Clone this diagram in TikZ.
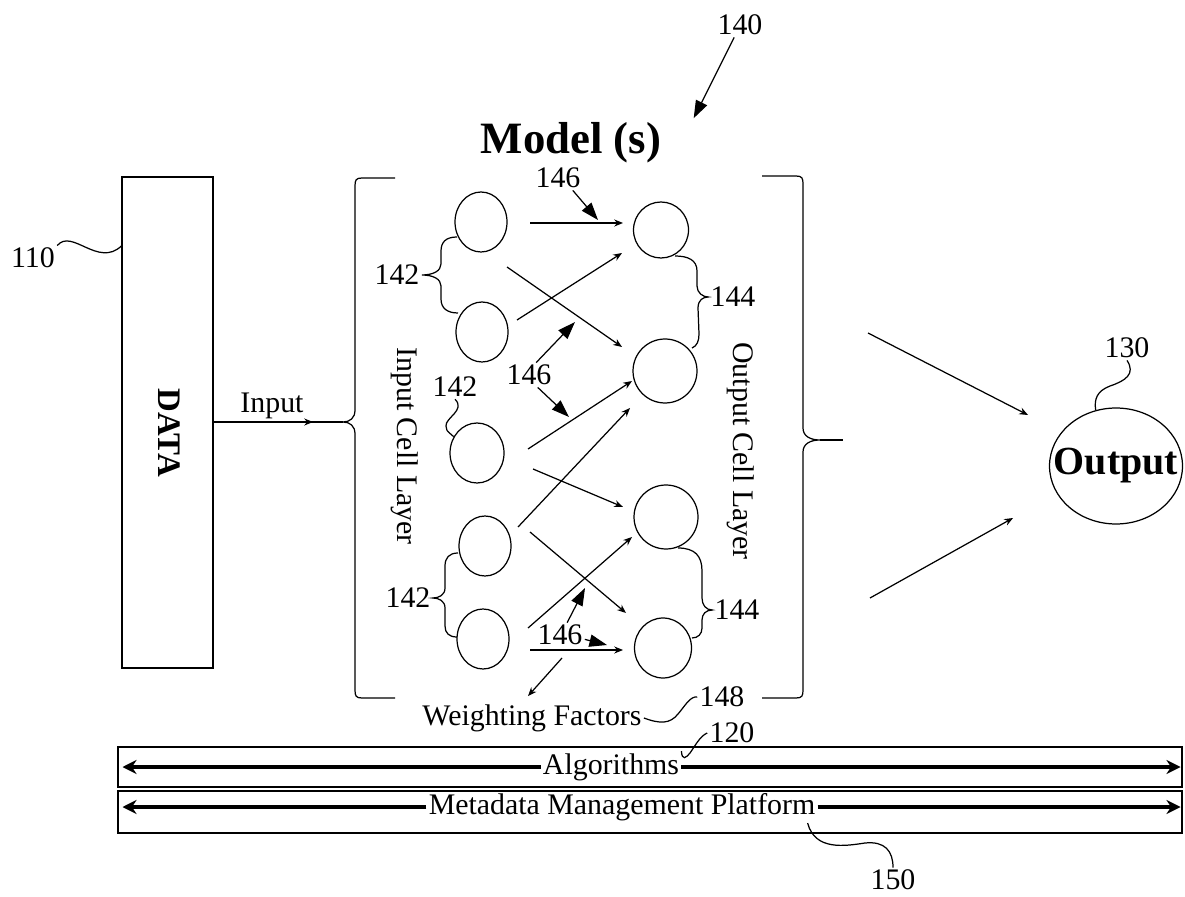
\documentclass[tikz,border=0pt]{standalone}
\usepackage{fontspec}
\setmainfont{Liberation Serif}
\usetikzlibrary{arrows.meta,calc,shapes.geometric}

\tikzset{
  cell/.style={draw, ellipse, minimum width=1.04cm, minimum height=1.2cm, inner sep=0pt},
  bigcell/.style={cell, minimum width=1.28cm, minimum height=1.28cm},
  lbl/.style={font=\fontsize{17}{20}\selectfont, inner sep=1pt},
  edge/.style={-{Stealth[length=5pt,width=4pt]}},
  ref/.style={-{Triangle[length=10pt,width=7pt]}},
  bar/.style={line width=2.4pt, -{Stealth[length=8pt,width=8pt]}},
  barbox/.style={draw, minimum width=21.28cm, inner sep=0pt}
}

\begin{document}
\begin{tikzpicture}[x=0.02cm, y=0.02cm, line width=0.7pt]
\useasboundingbox (0,0) rectangle (1185,896);

% data block and input
\node[draw, minimum width=1.82cm, minimum height=9.82cm] (data) at (167.5,473.5) {};
\node[rotate=-90, font=\bfseries\fontsize{18.7}{22}\selectfont] (datatxt) at (169,463) {DATA};
\node[lbl] (n110) at (33,638) {110};
\draw (n110.north east) .. controls (72,668) and (98,628) .. (data.west |- 0,650);
\coordinate (ltip) at (343,474);
\coordinate (rtip) at (820,456);
\node[lbl] (inlbl) at (272,490) {Input};
\draw[edge] (data.east |- ltip) -- ($(ltip)+(-30,0)$);
\draw ($(ltip)+(-32,0)$) -- (ltip);

% model brackets
\node[font=\bfseries\fontsize{25.5}{30}\selectfont] (model) at (571,753) {Model (s)};
\node[lbl] (n140) at (740,871) {140};
\draw[ref] (n140.-115) -- ($(model.north east)+(26,-2)$);
\draw (395,718) -- (362,718) .. controls (356,718) and (355,716) .. (355,710) -- (355,486)
  .. controls (355,478) and (350,474) .. (ltip) .. controls (350,474) and (355,470) .. (355,462)
  -- (355,206) .. controls (355,200) and (356,198) .. (362,198) -- (395,198);
\draw (762,720) -- (796,720) .. controls (802,720) and (803,718) .. (803,712) -- (803,468)
  .. controls (803,460) and (810,456) .. (rtip) .. controls (810,456) and (803,452) .. (803,444)
  -- (803,206) .. controls (803,200) and (802,198) .. (796,198) -- (762,198);
\draw (rtip) -- ++(23,0);

% cells
\node[cell] (I1) at (481,674) {};
\node[cell] (I2) at (482,564) {};
\node[cell, minimum width=1.08cm] (I3) at (477,443) {};
\node[cell] (I4) at (485,350) {};
\node[cell] (I5) at (483,257) {};
\node[cell, minimum width=1.1cm, minimum height=1.12cm] (O1) at (661,666) {};
\node[bigcell] (O2) at (665,525) {};
\node[bigcell] (O3) at (666,379) {};
\node[cell, minimum width=1.14cm] (O4) at (663,248) {};
\node[lbl, rotate=-90] (inlayer) at (405,450) {Input Cell Layer};
\node[lbl, rotate=-90] (outlayer) at (741,445) {Output Cell Layer};

% weighted connections
\draw[edge] ($(I1)+(49,-1)$) -- ($(O1)+(-38,7)$);
\draw[edge] ($(I1)+(26,-45)$) -- ($(O2)+(-43,24)$);
\draw[edge] ($(I2)+(35,12)$) -- ($(O1)+(-39,-23)$);
\draw[edge] ($(I3)+(51,4)$) -- ($(O2)+(-33,-10)$);
\draw[edge] ($(I3)+(56,-16)$) -- ($(O3)+(-43,10)$);
\draw[edge] ($(I4)+(33,19)$) -- ($(O2)+(-35,-37)$);
\draw[edge] ($(I4)+(45,14)$) -- ($(O4)+(-37,35)$);
\draw[edge] ($(I5)+(45,11)$) -- ($(O3)+(-34,-20)$);
\draw[edge] ($(I5)+(47,-11)$) -- ($(O4)+(-40,-2)$);

% reference numerals
\node[lbl] (w1) at (558,718) {146};
\draw[ref] (w1.-40) -- (598,676);
\node[lbl] (w2) at (529,521) {146};
\draw[ref] (w2.60) -- (575,574);
\draw[ref] (w2.-55) -- (569,479);
\node[lbl] (w3) at (560,261) {146};
\draw[ref] (w3.60) -- (585,308);
\draw[ref] (w3.-10) -- (607,251);

\node[lbl] (n142a) at (397,621) {142};
\draw (457,659) .. controls (446,659) and (441,654) .. (441,645) -- (441,632)
  .. controls (441,625) and (433,621) .. (n142a.east) .. controls (433,621) and (441,617) .. (441,610)
  -- (441,597) .. controls (441,588) and (447,583) .. (458,583);
\node[lbl] (n142b) at (455,509) {142};
\draw (n142b.south) .. controls (466,486) and (445,478) .. (446,470) .. controls (446,466) .. (I3.145);
\node[lbl] (n142c) at (408,298) {142};
\draw (458,343) .. controls (449,343) and (445,338) .. (445,330) -- (445,308)
  .. controls (445,301) and (439,298) .. (n142c.east) .. controls (439,298) and (445,295) .. (445,288)
  -- (445,270) .. controls (445,263) and (449,259) .. (457,259);
\node[lbl] (n144a) at (733,599) {144};
\draw (675,640) .. controls (688,640) and (697,636) .. (697,625) -- (697,610)
  .. controls (697,603) and (703,599) .. (n144a.west) .. controls (703,599) and (698,596) .. (698,588)
  -- (699,562) .. controls (699,555) and (697,550) .. (692,548);
\node[lbl] (n144b) at (737,286) {144};
\draw (678,348) .. controls (695,348) and (702,340) .. (702,325) -- (702,298)
  .. controls (702,291) and (706,286) .. (n144b.west) .. controls (706,286) and (702,282) .. (702,276)
  -- (702,268) .. controls (702,262) and (698,258) .. (692,258);

\node[lbl] (wf) at (532,178) {Weighting Factors};
\draw[edge] (562,238) -- ($(wf.north)+(-4,6)$);
\node[lbl] (n148) at (722,199) {148};
\draw (n148.west) .. controls (690,200) and (685,190) .. (678,182) .. controls (670,172) and (660,172) .. (wf.east);

% output
\node[draw, ellipse, minimum width=2.66cm, minimum height=2.32cm, inner sep=0pt] (out) at (1116,430) {};
\node[font=\bfseries\fontsize{22.7}{26}\selectfont, inner sep=0pt] (outtxt) at (out.center) {Output};
\node[lbl] (n130) at (1127,548) {130};
\draw (n130.south) .. controls (1136,522) and (1125,515) .. (1110,510) .. controls (1097,505) and (1094,497) .. (out.110);
\coordinate (oa) at (868,563);
\coordinate (ob) at (870,298);
\draw[edge] (oa) -- ($(out)+(-88,51)$);
\draw[edge] (ob) -- ($(out)+(-103,-52)$);

% algorithm and platform bars
\node[barbox, minimum height=0.8cm] (algbar) at (650,129) {};
\node[barbox, minimum height=0.84cm] (mmbar) at (650,84) {};
\node[lbl, fill=white] (alg) at (611,129) {Algorithms};
\draw[bar] (alg.west) -- ($(algbar.west)+(5,0)$);
\draw[bar] (alg.east) -- ($(algbar.east)+(-2,0)$);
\node[lbl, fill=white] (mmp) at (622,89) {Metadata Management Platform};
\draw[bar] (mmp.west) -- ($(mmbar.west |- mmp)+(5,0)$);
\draw[bar] (mmp.east) -- ($(mmbar.east |- mmp)+(-2,0)$);
\node[lbl] (n120) at (732,163) {120};
\draw (n120.west) .. controls (700,160) and (695,150) .. (690,143) .. controls (686,138) and (682,135) .. (alg.north east);
\node[lbl] (n150) at (893,16) {150};
\draw ($(mmp.south east)+(-10,0)$) .. controls (815,45) and (845,50) .. (865,53) .. controls (885,55) and (893,45) .. (n150.north);
\end{tikzpicture}
\end{document}
